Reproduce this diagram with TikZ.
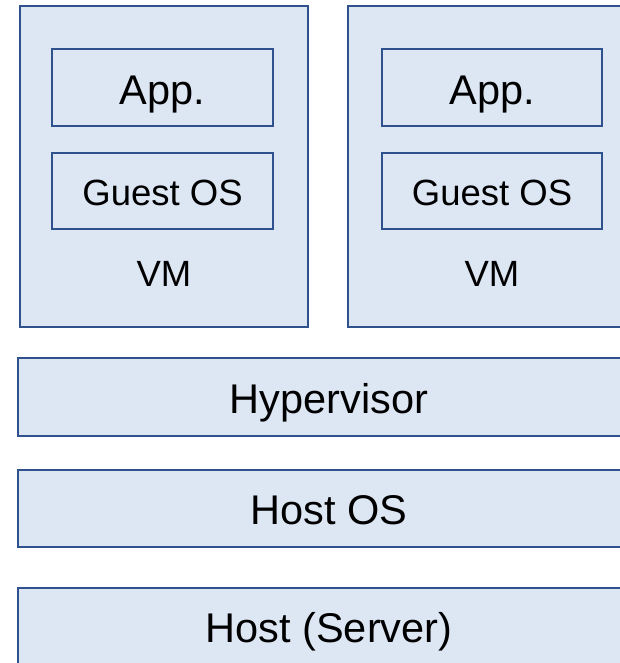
\documentclass[tikz,border=0pt]{standalone}
\usepackage{fontspec}
\setmainfont{Liberation Sans}
\definecolor{edgeblue}{HTML}{2F528F}
\definecolor{fillblue}{HTML}{DDE7F4}
\begin{document}
\begin{tikzpicture}[x=1pt,y=-1pt,
  layer/.style={draw=edgeblue, fill=fillblue, line width=2.9pt, inner sep=0pt},
  bigtext/.style={font=\fontsize{41.5}{48}\selectfont, text height=29.7pt, text depth=0pt},
  smalltext/.style={font=\fontsize{36.5}{44}\selectfont, text height=26.1pt, text depth=0pt}]
\useasboundingbox (0,0) rectangle (620,663);
\clip (0,0) rectangle (620,663);
% virtual machines
\node[layer, minimum width=288pt, minimum height=321pt] (vm1) at (164,166.5) {};
\node[layer, minimum width=288pt, minimum height=321pt] (vm2) at (492,166.5) {};
% applications and guest systems inside each VM
\node[layer, bigtext, minimum width=221pt, minimum height=77pt] (app1) at (162.5,87.5) {};
\node[bigtext] (apptext1) at (162.5,90) {App.};
\node[layer, smalltext, minimum width=221pt, minimum height=76pt] (guest1) at (162.5,191) {};
\node[smalltext] (guesttext1) at (162.5,192.5) {Guest OS};
\node[smalltext] (vmlabel1) at (164,273.5) {VM};
\node[layer, bigtext, minimum width=220pt, minimum height=77pt] (app2) at (492,87.5) {};
\node[bigtext] (apptext2) at (492,90) {App.};
\node[layer, smalltext, minimum width=220pt, minimum height=76pt] (guest2) at (492,191) {};
\node[smalltext] (guesttext2) at (492,192.5) {Guest OS};
\node[smalltext] (vmlabel2) at (492,273.5) {VM};
% lower layers
\node[layer, minimum width=622pt, minimum height=78pt] (hyp) at (329,397) {};
\node[bigtext] (hyptext) at (329,398.5) {Hypervisor};
\node[layer, minimum width=622pt, minimum height=77pt] (hostos) at (329,508.5) {};
\node[bigtext] (hostostext) at (329,510) {Host OS};
\node[layer, minimum width=622pt, minimum height=78pt] (host) at (329,627) {};
\node[bigtext] (hosttext) at (329,628) {Host (Server)};
\end{tikzpicture}
\end{document}
